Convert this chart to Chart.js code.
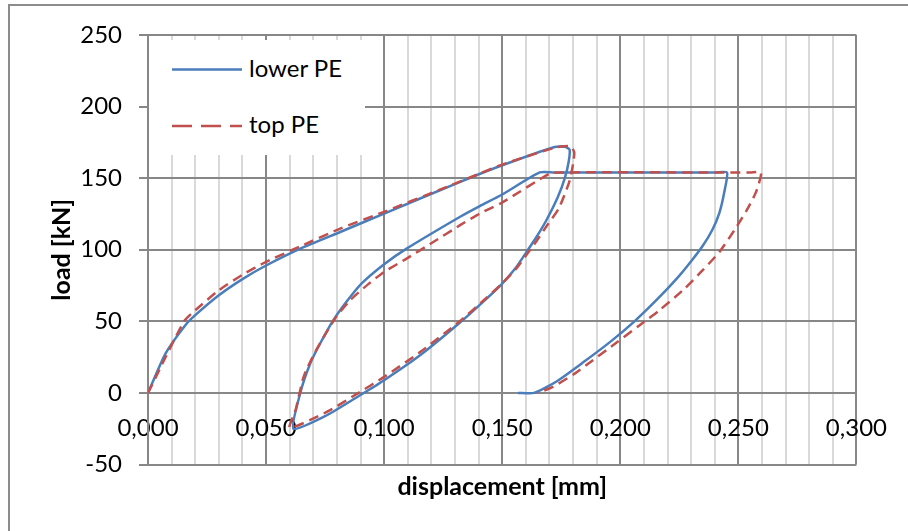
<!DOCTYPE html>
<html lang="en">
<head>
  <meta charset="UTF-8" />
  <title>load - displacement</title>
  <style>
    body { margin: 0; background: #fff; font-family: 'Lato', sans-serif; }
    .wrap { position: relative; width: 908px; height: 531px; overflow: hidden; }
    .frame { position: absolute; left: 8px; top: 4px; width: 1000px; height: 1000px; border: 2px solid #8c8c8c; }
    canvas { position: absolute; left: 0; top: 0; }
    .legend { position: absolute; left: 149px; top: 40px; }
  </style>
</head>
<body>
<div class="wrap">
  <div class="frame"></div>
  <canvas id="loadChart" width="908" height="531"></canvas>
  <svg class="legend" width="216" height="115">
    <rect x="0" y="0" width="216" height="115" fill="#fff" />
    <line x1="23" y1="29.5" x2="93" y2="29.5" stroke="#4a7ebb" stroke-width="2.5" />
    <text x="100" y="37" font-family="Lato" font-size="24" fill="#000">lower PE</text>
    <line x1="23" y1="86" x2="93" y2="86" stroke="#c0504d" stroke-width="2.5" stroke-dasharray="20 9" />
    <text x="100" y="93" font-family="Lato" font-size="24" fill="#000">top PE</text>
  </svg>
</div>

<script src="https://cdn.jsdelivr.net/npm/chart.js"></script>
<script>
// lower PE (displacement mm / load kN)
const lowerX = [0, 0.0074, 0.0158, 0.020, 0.030, 0.040, 0.050, 0.0645, 0.0814, 0.100, 0.132, 0.150,
  0.1722, 0.1765, 0.1785, 0.1782, 0.1765, 0.1736, 0.1687, 0.1645, 0.1603, 0.156, 0.150, 0.1434, 0.132,
  0.1152, 0.100, 0.0898, 0.0757, 0.0616,
  0.0645, 0.0687, 0.0729, 0.0785, 0.0842, 0.0905, 0.100, 0.1095, 0.132, 0.1405, 0.150, 0.1659,
  0.172, 0.240, 0.2452, 0.2440, 0.2420, 0.2390, 0.2350, 0.2300, 0.2240, 0.2160, 0.2060, 0.1960,
  0.1840, 0.1730, 0.1635, 0.1567];
const lowerY = [0, 27.5, 47.3, 54.3, 68.2, 79.5, 89, 100.8, 112.4, 125.3, 147.3, 159,
  171.8, 172, 170, 162, 150, 137, 120.6, 108.9, 98.5, 88, 76.4, 65.9, 49,
  26.3, 8.9, -1.6, -15.6, -25,
  0, 20.5, 34.5, 50.8, 64, 76.5, 89.9, 100.8, 122.9, 130.5, 138.6, 154,
  154, 154, 154, 140, 126, 114, 103, 92, 80, 66, 50, 36,
  21, 8, 0, 0];

// top PE
const topX = [0, 0.0151, 0.020, 0.030, 0.040, 0.050, 0.0645, 0.0814, 0.100, 0.1236, 0.1405, 0.150,
  0.172, 0.1762, 0.1790, 0.1805, 0.1800, 0.1785, 0.1740, 0.1690, 0.1645, 0.1603, 0.156, 0.150, 0.1434,
  0.132, 0.1152, 0.100, 0.0898, 0.0757, 0.0600,
  0.0625, 0.0659, 0.0708, 0.0792, 0.0856, 0.0933, 0.100, 0.1095, 0.1208, 0.132, 0.1405, 0.150, 0.1701,
  0.175, 0.255, 0.2596, 0.2575, 0.2535, 0.2483, 0.242, 0.2349, 0.2265, 0.2166, 0.2082, 0.1983, 0.1884,
  0.1807, 0.1715, 0.1652];
const topY = [0, 49.6, 57.7, 71.7, 82.5, 91.5, 102.4, 114.8, 126.5, 142, 153.2, 159.5,
  171.2, 172.3, 172.2, 168, 160, 148, 129, 117, 106, 96.5, 87, 76.5, 66.5,
  50, 28.5, 11.2, 0.7, -13.3, -24.5,
  -12, 11.2, 28.6, 52, 64.7, 76, 84.5, 93.8, 105.4, 117, 125.3, 133, 153.2,
  154, 154, 154, 140.4, 127.5, 113.6, 98.5, 85.7, 71.7, 57.8, 47.3, 35, 22.8,
  13.5, 4.2, 0];

const xMin = 0, xMax = 0.3, xMinorStep = 0.01, xMajorStep = 0.05;
const yMin = -50, yMax = 250, yStep = 50;

function toPoints(xs, ys) {
  return xs.map((x, i) => ({ x: x, y: ys[i] }));
}
function isMajor(v) {
  const r = v / xMajorStep;
  return Math.abs(r - Math.round(r)) < 1e-6;
}

const font = 'Lato';
const ctx = document.getElementById('loadChart').getContext('2d');
new Chart(ctx, {
  type: 'scatter',
  data: {
    datasets: [
      {
        label: 'lower PE',
        data: toPoints(lowerX, lowerY),
        showLine: true,
        borderColor: '#4a7ebb',
        borderWidth: 2.5,
        pointRadius: 0,
        tension: 0.2,
        order: 1
      },
      {
        label: 'top PE',
        data: toPoints(topX, topY),
        showLine: true,
        borderColor: '#c0504d',
        borderWidth: 2.5,
        borderDash: [10, 6],
        pointRadius: 0,
        tension: 0.2,
        order: 0
      }
    ]
  },
  options: {
    responsive: false,
    animation: false,
    layout: { padding: { top: 35, right: 51, left: 0, bottom: 0 } },
    plugins: {
      legend: { display: false },
      tooltip: { enabled: false },
      title: {
        display: true,
        text: 'displacement [mm]',
        position: 'bottom',
        fullSize: false,
        color: '#000',
        font: { family: font, size: 25, weight: 'bold' },
        padding: { top: 7.5, bottom: 29 }
      }
    },
    scales: {
      x: {
        type: 'linear',
        position: { y: 0 },
        min: xMin,
        max: xMax,
        border: { color: '#878787', width: 2 },
        grid: {
          drawTicks: false,
          lineWidth: 2,
          color: c => isMajor(c.tick.value) ? '#878787' : '#d9d9d9'
        },
        ticks: {
          stepSize: xMinorStep,
          autoSkip: false,
          maxRotation: 0,
          padding: 21,
          color: '#000',
          font: { family: font, size: 24 },
          callback: v => isMajor(v) ? v.toFixed(3).replace('.', ',') : ''
        }
      },
      y: {
        min: yMin,
        max: yMax,
        afterFit: s => { s.width = 148; },
        border: { color: '#878787', width: 2 },
        grid: { color: '#878787', lineWidth: 2, tickLength: 9 },
        ticks: {
          stepSize: yStep,
          padding: 17,
          color: '#000',
          font: { family: font, size: 24 }
        },
        title: {
          display: true,
          text: 'load [kN]',
          color: '#000',
          font: { family: font, size: 25, weight: 'bold' },
          padding: { top: 47, bottom: 0 }
        }
      }
    }
  }
});
</script>
</body>
</html>
